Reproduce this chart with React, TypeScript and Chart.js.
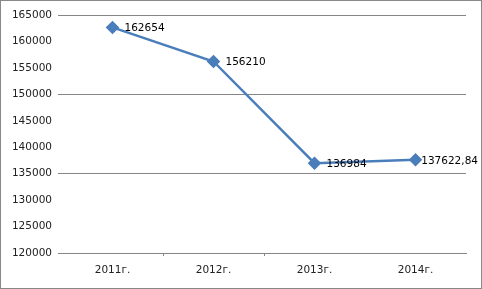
import React, { useEffect, useRef } from "react";
import { Chart, registerables } from "chart.js";

Chart.register(...registerables);

const categories = ["2011г.", "2012г.", "2013г.", "2014г."];
const values = [162654, 156210, 136984, 137622.84];
const yMin = 120000;
const yMax = 165000;
const yStep = 5000;
const gridStep = 15000;

const FONT = "DejaVu Sans";

const labelPlugin = {
  id: "valueLabels",
  afterDatasetsDraw(chart: any) {
    const ctx = chart.ctx;
    const meta = chart.getDatasetMeta(0);
    ctx.save();
    ctx.font = `10.5px "${FONT}"`;
    ctx.fillStyle = "#000";
    ctx.textBaseline = "middle";
    ctx.textAlign = "left";
    meta.data.forEach((pt: any, i: number) => {
      const txt = String(values[i]).replace(".", ",");
      const w = ctx.measureText(txt).width;
      let x = pt.x + 12;
      if (x + w > chart.width - 3) x = chart.width - 3 - w;
      ctx.fillText(txt, x, pt.y + 1);
    });
    ctx.restore();
  },
};

export default function App() {
  const ref = useRef<HTMLCanvasElement | null>(null);
  useEffect(() => {
    if (!ref.current) return;
    const chart = new Chart(ref.current, {
      type: "line",
      data: {
        labels: categories,
        datasets: [
          {
            data: values,
            borderColor: "#4a7ebb",
            backgroundColor: "#4a7ebb",
            borderWidth: 2.5,
            pointStyle: "rectRot",
            pointRadius: 5,
            pointBackgroundColor: "#4a7ebb",
            pointBorderColor: "#4a7ebb",
            tension: 0,
          },
        ],
      },
      options: {
        animation: false,
        responsive: false,
        maintainAspectRatio: false,
        layout: { padding: { top: 14, right: 15, left: 0, bottom: 0 } },
        plugins: { legend: { display: false }, tooltip: { enabled: false } },
        scales: {
          x: {
            offset: true,
            grid: {
              offset: true,
              drawOnChartArea: false,
              drawTicks: true,
              tickLength: 3,
              color: (c: any) =>
                c.index === 1 || c.index === 2 ? "#868686" : "rgba(0,0,0,0)",
            },
            border: { display: true, color: "#868686" },
            ticks: {
              font: { family: FONT, size: 10.5 },
              color: "#222",
              padding: 8,
              maxRotation: 0,
            },
            afterFit: (s: any) => {
              s.height = 35;
            },
          },
          y: {
            min: yMin,
            max: yMax,
            ticks: {
              stepSize: yStep,
              font: { family: FONT, size: 10.5 },
              color: "#222",
              padding: 6,
              callback: (v: any) => String(v),
            },
            grid: {
              drawTicks: true,
              tickLength: 4,
              color: (c: any) =>
                c.tick && c.tick.value % gridStep === 0 ? "#868686" : "rgba(0,0,0,0)",
            },
            border: { display: false },
            afterFit: (s: any) => {
              s.width = 61;
            },
          },
        },
      },
      plugins: [labelPlugin],
    });
    return () => chart.destroy();
  }, []);
  return (
    <div
      style={{
        position: "fixed",
        left: 0,
        top: 0,
        width: 482,
        height: 289,
        boxSizing: "border-box",
        border: "1px solid #888",
        background: "#fff",
      }}
    >
      <canvas ref={ref} width={480} height={287} style={{ display: "block" }} />
    </div>
  );
}
